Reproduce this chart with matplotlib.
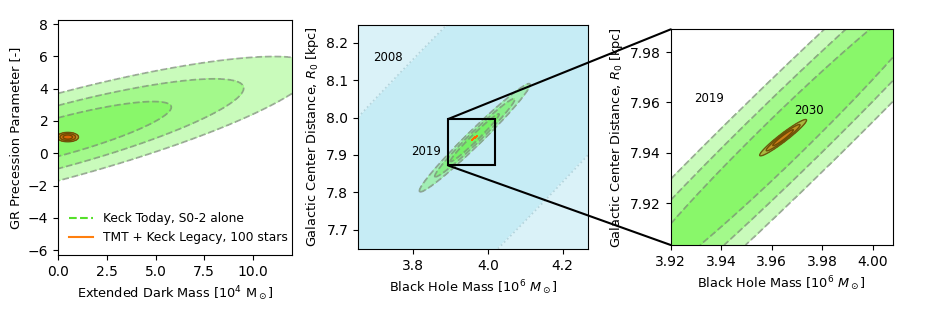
import numpy as np
import matplotlib
matplotlib.use("Agg")
import matplotlib.pyplot as plt
from matplotlib.lines import Line2D
from matplotlib.patches import Rectangle, ConnectionPatch

plt.rcParams['font.size'] = 10
plt.rcParams['axes.labelsize'] = 9.3

# chi^2 (2 dof) levels for 68.3 / 95.4 / 99.7 %
chi2_levels = [2.30, 6.18, 11.83]

# ellipse parameters: centre x, centre y, sigma x, sigma y, rho
keck_today_gr = [0.0, 1.0, 3.83, 1.45, 0.84]
tmt_gr = [0.5, 1.0, 0.16, 0.085, 0.0]
bh_2008 = [3.96, 7.95, 0.787, 0.816, 0.955]
bh_2019 = [3.965, 7.946, 0.043, 0.042, 0.981]
bh_2030 = [3.9645, 7.946, 0.0027, 0.0021, 0.96]

# zoom box drawn on the middle panel
zoom_box_x = [3.894, 4.019]
zoom_box_y = [7.872, 7.996]

green = (0.30, 0.96, 0.12)
orange = (0.88, 0.36, 0.0)
blue_fill = ['#c6ecf5', '#daf2f8']


def chi2_grid(ax, pars, n=500):
    x0, x1 = ax.get_xlim()
    y0, y1 = ax.get_ylim()
    x, y = np.meshgrid(np.linspace(x0, x1, n), np.linspace(y0, y1, n))
    mx, my, sx, sy, r = pars
    dx = (x - mx) / sx
    dy = (y - my) / sy
    return x, y, (dx**2 - 2 * r * dx * dy + dy**2) / (1 - r**2)


def green_contours(ax, pars):
    x, y, c = chi2_grid(ax, pars)
    for lvl in chi2_levels:
        ax.contourf(x, y, c, levels=[0, lvl], colors=[green], alpha=0.3)
    ax.contour(x, y, c, levels=chi2_levels, colors='#7a7a7a', alpha=0.6,
               linestyles='--', linewidths=1.3)


def orange_contours(ax, pars, lw=1.0, alpha=0.4):
    x, y, c = chi2_grid(ax, pars, n=800)
    for lvl in chi2_levels:
        ax.contourf(x, y, c, levels=[0, lvl], colors=[orange], alpha=alpha)
    if lw > 0:
        ax.contour(x, y, c, levels=chi2_levels, colors='#5a4200',
                   linewidths=lw, alpha=0.8)


fig = plt.figure(figsize=(9.33, 3.12), dpi=100)
ax1 = fig.add_axes([0.0622, 0.1827, 0.2508, 0.7533])
ax2 = fig.add_axes([0.3837, 0.2019, 0.2463, 0.7180])
ax3 = fig.add_axes([0.7189, 0.2147, 0.2379, 0.6913])

# panel 1: GR precession vs extended mass
ax1.set_xlim(0, 12)
ax1.set_ylim(-6.3, 8.25)
green_contours(ax1, keck_today_gr)
orange_contours(ax1, tmt_gr, lw=1.0, alpha=0.6)
ax1.set_xticks([0, 2.5, 5, 7.5, 10])
ax1.set_xticklabels(['0.0', '2.5', '5.0', '7.5', '10.0'])
ax1.set_yticks(range(-6, 9, 2))
ax1.set_xlabel(r'Extended Dark Mass [10$^4$ M$_\odot$]')
ax1.set_ylabel('GR Precession Parameter [-]')
handles = [Line2D([], [], color='#55e02a', ls='--', lw=1.5),
           Line2D([], [], color='#ff7f0e', lw=1.5)]
ax1.legend(handles, ['Keck Today, S0-2 alone', 'TMT + Keck Legacy, 100 stars'],
           loc='lower left', frameon=False, fontsize=8.8)

# panel 2: R0 vs black hole mass
ax2.set_xlim(3.653, 4.267)
ax2.set_ylim(7.649, 8.247)
x, y, c = chi2_grid(ax2, bh_2008)
ax2.contourf(x, y, c, levels=[0, chi2_levels[0], 1e6], colors=blue_fill)
ax2.contour(x, y, c, levels=[chi2_levels[0]], colors='#b4d4dc',
            linestyles=':', linewidths=1.2)
green_contours(ax2, bh_2019)
x, y, c = chi2_grid(ax2, bh_2030, n=800)
ax2.contourf(x, y, c, levels=[0, chi2_levels[-1]], colors=['#ff6a00'])
ax2.add_patch(Rectangle((zoom_box_x[0], zoom_box_y[0]),
                        zoom_box_x[1] - zoom_box_x[0], zoom_box_y[1] - zoom_box_y[0],
                        fill=False, ec='k', lw=1.5, zorder=5))
ax2.text(3.733, 8.16, '2008', fontsize=8.5, ha='center', va='center')
ax2.text(3.834, 7.909, '2019', fontsize=8.5, ha='center', va='center')
ax2.set_xticks([3.8, 4.0, 4.2])
ax2.set_yticks([7.7, 7.8, 7.9, 8.0, 8.1, 8.2])
ax2.set_xlabel(r'Black Hole Mass [10$^6$ $M_\odot$]')
ax2.set_ylabel(r'Galactic Center Distance, $R_0$ [kpc]')

# panel 3: zoom
ax3.set_xlim(3.92, 4.0079)
ax3.set_ylim(7.9034, 7.989)
green_contours(ax3, bh_2019)
orange_contours(ax3, bh_2030, lw=1.0, alpha=0.4)
ax3.text(3.9353, 7.9614, '2019', fontsize=8.5, ha='center', va='center')
ax3.text(3.9749, 7.9567, '2030', fontsize=8.5, ha='center', va='center')
ax3.set_xticks([3.92, 3.94, 3.96, 3.98, 4.00])
ax3.set_yticks([7.92, 7.94, 7.96, 7.98])
ax3.set_xlabel(r'Black Hole Mass [10$^6$ $M_\odot$]')
ax3.set_ylabel(r'Galactic Center Distance, $R_0$ [kpc]')

for yb, yf in [(zoom_box_y[1], 1), (zoom_box_y[0], 0)]:
    con = ConnectionPatch(xyA=(zoom_box_x[0], yb), coordsA=ax2.transData,
                          xyB=(0, yf), coordsB=ax3.transAxes,
                          color='k', lw=1.5, zorder=10)
    fig.add_artist(con)

fig.savefig('out.png', dpi=100)
